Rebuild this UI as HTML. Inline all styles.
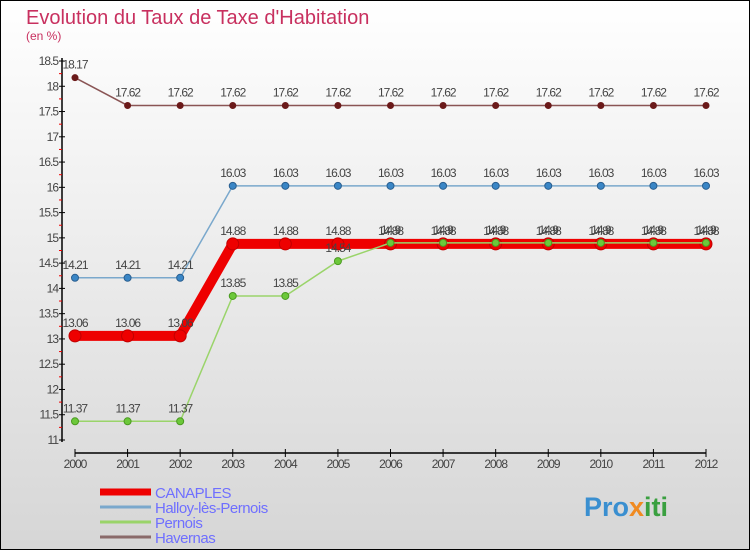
<!DOCTYPE html>
<html><head><meta charset="utf-8"><style>
body{margin:0}
#c{width:750px;height:550px;position:relative;box-sizing:border-box;border:1px solid #000;background:linear-gradient(#fff,#d6d6d6);font-family:"Liberation Sans","DejaVu Sans",sans-serif;overflow:hidden}
</style></head><body>
<div id="c">
<svg id="s" width="750" height="550" style="position:absolute;left:-1px;top:-1px"></svg>
</div>
<script>
const years=[2000,2001,2002,2003,2004,2005,2006,2007,2008,2009,2010,2011,2012];
const canaples=[13.06,13.06,13.06,14.88,14.88,14.88,14.88,14.88,14.88,14.88,14.88,14.88,14.88];
const halloy=[14.21,14.21,14.21,16.03,16.03,16.03,16.03,16.03,16.03,16.03,16.03,16.03,16.03];
const pernois=[11.37,11.37,11.37,13.85,13.85,14.54,14.9,14.9,14.9,14.9,14.9,14.9,14.9];
const havernas=[18.17,17.62,17.62,17.62,17.62,17.62,17.62,17.62,17.62,17.62,17.62,17.62,17.62];
const yTicks=[11,11.5,12,12.5,13,13.5,14,14.5,15,15.5,16,16.5,17,17.5,18,18.5];
const legendNames=["CANAPLES","Halloy-lès-Pernois","Pernois","Havernas"];
const NS="http://www.w3.org/2000/svg",s=document.getElementById('s');
function X(i){return 75+i*(706-75)/(years.length-1);}
function Y(v){return 440-(v-11)*(440-61)/7.5;}
function el(t,a,txt){const e=document.createElementNS(NS,t);for(const k in a)e.setAttribute(k,a[k]);if(txt!==undefined)e.textContent=txt;s.appendChild(e);return e;}
let e;
e=el('text',{x:26,y:24,fill:'#c8305f','font-size':20},'Evolution du Taux de Taxe d\'Habitation');


e=el('text',{x:26,y:40,fill:'#c8305f','font-size':12},'(en %)');


e=el('line',{x1:62,y1:58,x2:62,y2:442,stroke:'#000','stroke-width':1.5});


yTicks.forEach(v=>{
 el('line',{x1:59,x2:65,y1:Y(v),y2:Y(v),stroke:'#000'});
 e=el('text',{x:58,y:Y(v)+4,'text-anchor':'end','font-size':12,fill:'#444','letter-spacing':-1},String(v));
 
 
 if(v<18.5)el('line',{x1:59,x2:62,y1:Y(v+0.25),y2:Y(v+0.25),stroke:'#e00'});
});
e=el('line',{x1:75,y1:453,x2:706,y2:453,stroke:'#000','stroke-width':1.5});


years.forEach((y,i)=>{
 el('line',{x1:X(i),x2:X(i),y1:449,y2:457,stroke:'#000'});
 e=el('text',{x:X(i),y:468,'text-anchor':'middle','font-size':12,fill:'#444','letter-spacing':-1},String(y));
 
 
});
function series(data,name,color,w,r,fill,stroke){
 const g=document.createElementNS(NS,'g');s.appendChild(g);
 
 
 const p=document.createElementNS(NS,'polyline');
 p.setAttribute('points',data.map((v,i)=>X(i)+','+Y(v)).join(' '));
 p.setAttribute('fill','none');p.setAttribute('stroke',color);p.setAttribute('stroke-width',w);
 g.appendChild(p);
 data.forEach((v,i)=>{
  const c=document.createElementNS(NS,'circle');
  c.setAttribute('cx',X(i));c.setAttribute('cy',Y(v));c.setAttribute('r',r);c.setAttribute('fill',fill);
  if(stroke){c.setAttribute('stroke',stroke);c.setAttribute('stroke-width',1);}
  
  
  g.appendChild(c);
  const t=document.createElementNS(NS,'text');
  t.setAttribute('x',X(i));t.setAttribute('y',Y(v)-9);t.setAttribute('text-anchor','middle');
  t.setAttribute('font-size',12);t.setAttribute('fill','#444');t.setAttribute('letter-spacing',-1);
  t.textContent=String(v);
  
  
  g.appendChild(t);
 });
}
series(havernas,'havernas-series','#8a5555',1.5,3.5,'#6b1a1a');
series(halloy,'halloy-series','#7aa8cc',1.5,3.5,'#3a86c6','#2a5f90');
series(canaples,'canaples-series','#ee0000',10,6,'#ee0000','#c00000');
series(pernois,'pernois-series','#9ad46a',1.5,3.5,'#6cc83a','#4a9a20');
const lc=['#ee0000','#7aa8cc','#9ad46a','#8a6a6a'],lw=[7,3,3,3];
legendNames.forEach((n,i)=>{
 const y=492+i*15;
 e=el('line',{x1:100,x2:151,y1:y,y2:y,stroke:lc[i],'stroke-width':lw[i]});
 
 
 e=el('text',{x:155,y:y+6,'font-size':15,fill:'#6f6fff','letter-spacing':-0.5},n);
 
 
});
e=el('text',{x:584,y:516,'font-size':27,'font-weight':'bold',fill:'#3a8fd0'});


e.innerHTML='<tspan>Pro</tspan><tspan fill="#f08a20">x</tspan><tspan fill="#3aa040">iti</tspan>';
</script>
</body></html>
